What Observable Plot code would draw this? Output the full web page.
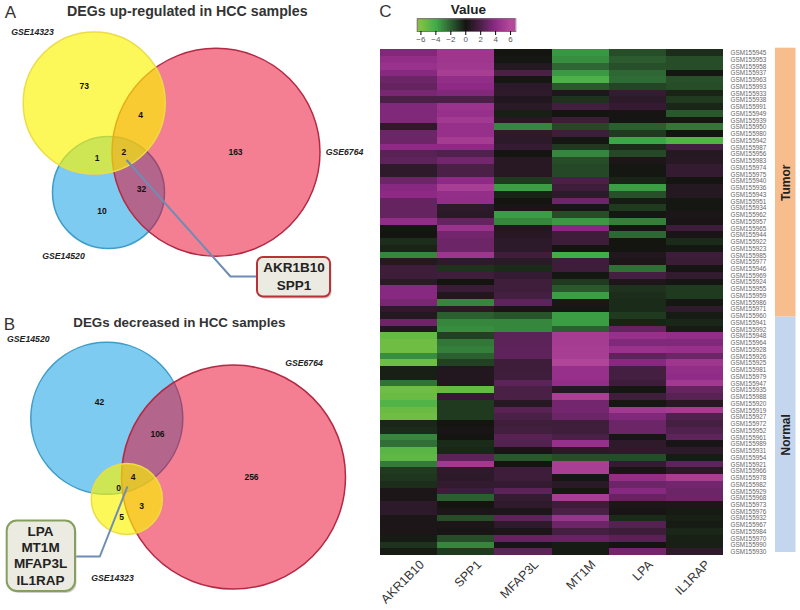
<!DOCTYPE html>
<html><head><meta charset="utf-8">
<style>
html,body{margin:0;padding:0;background:#fff;overflow:hidden;width:800px;height:610px}
#page{position:relative;width:800px;height:610px}
#page svg{position:absolute;display:block}
</style>
<script src="https://cdn.jsdelivr.net/npm/d3@7"></script>
<script src="https://cdn.jsdelivr.net/npm/@observablehq/plot@0.6"></script>
</head><body><div id="page"></div>
<script>
// ---------- Heatmap data ----------
const genes = ["AKR1B10","SPP1","MFAP3L","MT1M","LPA","IL1RAP"];
const samples = ["945","953","958","937","963","993","933","938","991","949","939","950","980","942","987","956","983","974","975","940","936","943","951","934","962","957","965","944","922","923","985","977","946","969","924","955","959","986","971","960","941","992","948","964","928","926","925","981","979","947","935","988","920","919","927","972","952","961","989","931","954","921","966","978","982","929","968","973","976","932","967","984","970","990","930"].map(s=>"GSM155"+s);
const akr1b10 = [3.6,4.2,4.5,3.8,3,2.8,3.4,2,3.6,3.6,3.6,1,3,3,4,2.4,2.6,1,1,3,3.8,4,2.8,2.8,2.8,4.2,-0.1,0,-0.7,-0.4,-3,0.6,1.5,1.5,0.8,3.8,3.8,3.4,1,0.6,3,0.5,-5.2,-5.5,-5.5,-3.2,-5.5,-0.3,-0.3,-2.5,-5.5,-5.3,-4.6,-5.3,-5.5,-0.5,-0.6,-3,-2.4,-4.8,-5,-2.7,-1,-0.9,-0.7,0.3,0.3,0.9,0.9,0.3,0.3,0.3,-0.2,-0.8,-0.2];
const spp1 = [4.8,4.8,4.9,5.3,4.2,4,3.6,2,4.6,4.4,5,4.4,4.4,5.2,4,2.2,3.2,2,2,4,5.3,4.3,4.2,1,0.8,2.8,4.5,3.2,3,3,4.8,1,-0.8,1.6,0,1.4,0.5,-3,0.8,-2,-3,-3.2,-1.2,-2.6,-2.8,-2,-1.2,0.5,0.5,0.5,-5.2,1.2,-1,-1,-1,0,0.2,0,-0.6,-0.5,2.5,5,1,0.9,1.1,1.5,-2,0,0.3,-1.5,0.3,0.2,-1.5,-3,-1];
const mfap3l = [0,-0.1,0.6,2,-0.1,0.9,1,0.5,0.8,-0.3,0.7,-3,1,0.9,1.2,0,0.7,0.7,0.7,-1,-3.6,-0.4,0,0.2,-3.6,-3,0.5,0.7,0.9,0.9,1.6,0.8,-0.6,1.2,1.6,1.6,1.8,2.6,0.2,-1.7,-3,-3,2.5,2.5,2.6,2.6,1.5,1.5,1.6,2.5,2,2,0.7,2.4,2,1.6,1.7,2.4,2.3,0.2,-1.8,0,1.5,1.5,1.2,2.5,1.2,1,0.3,2.6,1,0.3,2.8,0.2,2.5];
const mt1m = [-3.4,-3.2,-2.2,-3.5,-4.4,-1.8,0.4,-0.8,1.7,0,1.5,-1.4,1.5,-0.1,-1,-3,-1.5,-1.4,-1.4,2,1.5,1,3,0.2,-1.5,-3.5,3.8,1.5,1.5,0,-4,1.5,1.5,-0.1,-1,-1.8,-3.6,0.3,-0.1,-3.6,-3.6,-2,5.2,5.2,5.3,5.3,5.8,4.4,4.4,4.2,0.6,5.4,3.2,3.2,3,1.6,1.6,2,4.4,0.8,-1.5,5.4,5.4,-0.1,0.8,-0.1,5.3,1.5,2,4.6,3,1.8,2.8,-0.2,-0.2];
const lpa = [-1.5,-1.9,-1.6,-2.2,-2.3,-1.3,1.2,0.9,1.2,0.1,0.1,-2,-1,-3.8,-0.6,-1.4,0.3,-0.1,-0.1,-0.4,-3.6,-1.6,-0.2,-1,-0.1,-2.8,0,-2.2,0,0,0.5,0.3,-2.4,1.8,0.4,-0.8,-0.7,-0.6,-0.6,-1,-0.4,2.8,4.4,3.6,4.5,2.6,3.8,1.8,1.8,1.5,-0.1,1.6,-0.1,5,3.6,3,3,-0.1,1,1,-1.5,1.2,0.2,4.2,3,3.8,2.8,0.3,0.2,-0.6,2.3,1.5,2.4,0,3.2];
const il1rap = [-0.7,-1.5,-1.5,-0.1,-1.6,-1.5,-0.4,-1,-0.5,-1.8,-0.1,-2.6,0,-4.6,1.7,0.6,0.7,1.2,1.2,0,0.6,0.6,-0.1,-0.1,0.3,0.2,1.5,0.2,-0.6,-0.1,1.5,1.4,0.1,1.1,0.1,-1,-1,-0.1,1,-0.2,-0.5,-0.2,4.2,3.6,4.4,3,4.8,4.2,4.1,5,2.8,2.4,0.7,5.2,2.2,1.8,2.2,2.6,0.2,0.9,-0.2,2.6,0.8,5.3,3.2,3,3,0.4,-0.2,-0.3,-0.2,-0.5,-0.3,-0.3,1];
const geneValues = [akr1b10,spp1,mfap3l,mt1m,lpa,il1rap];
const groupNames = ["Tumor","Normal"];
const groupStart = [0,40];
const groupEnd = [40,75];
const groupFill = ["#f8bd8c","#c4d6ee"];
const legendTicks = [-6,-4,-2,0,2,4,6];

// ---------- Venn data (diagram units) ----------
const circleX = [108,215.5,93.7, 106.3,233,126.3];
const circleY = [192,151.8,102.5, 417.8,476.6,498.4];
const circleR = [56,104,71, 76,112,35.5];
const circleKind = ["blue","red","yellow","blue","red","yellow"];
const countText = ["73","4","1","2","163","32","10","42","106","256","4","0","3","5"];
const countX = [83.7,140,96.7,123.3,235,141,101.5,99,157,251,132.7,118,141,121];
const countY = [86,114.7,157.7,152,152,189,211,401.7,434,477,477,488,506,517];
const setText = ["GSE14323","GSE6764","GSE14520","GSE14520","GSE6764","GSE14323"];
const setX = [32,344,63,27.8,303.5,112];
const setY = [32,152,255.7,339,362.7,577.7];
const titleText = ["DEGs up-regulated in HCC samples","DEGs decreased in HCC samples"];
const titleSize = [14.2,13.4];
const titleX = [186.8,178.8];
const titleY = [10.5,322.7];
const leaderAX = [126.5,230,258], leaderAY = [160,276,276];
const leaderBX = [126.7,99.3,75], leaderBY = [486.7,556,556];
const boxA = {x1:257,x2:330,y1:257,y2:296.5,stroke:"#b83338",rx:6};
const boxB = {x1:6.7,x2:75,y1:520.5,y2:591,stroke:"#85a05e",rx:10};
const boxGenes = ["AKR1B10","SPP1","LPA","MT1M","MFAP3L","IL1RAP"];
const boxGeneX = [293.5,293.5,40,40,40,40];
const boxGeneY = [267,285.5,531.5,547,563.5,580];

const kindStyle = {
  blue:{fill:"#7dcbf0",fillOpacity:1,stroke:"#3d9cc9"},
  red:{fill:"#e90025",fillOpacity:0.5,stroke:"#b32a44"},
  yellow:{fill:"#fcf400",fillOpacity:0.65,stroke:"#ecdc45"}
};
const FONT = "'Liberation Sans', Arial, sans-serif";
const page = document.getElementById("page");
function place(svg,left,top){svg.style.left=left+"px";svg.style.top=top+"px";page.appendChild(svg);}

// ---------- Left: Venn diagrams ----------
const idx = a => a.map((_,i)=>i);
const circleMarks = idx(circleX).map(i=>Plot.dot([i],{
  x:j=>circleX[j],y:j=>circleY[j],r:j=>circleR[j],sort:null,strokeWidth:1.5,...kindStyle[circleKind[i]]}));
const boxMark = b => [
  Plot.rect([b],{x1:d=>d.x1+1.5,x2:d=>d.x2+1.5,y1:d=>d.y1+2,y2:d=>d.y2+2,rx:b.rx,fill:"#bbb",fillOpacity:0.7}),
  Plot.rect([b],{x1:"x1",x2:"x2",y1:"y1",y2:"y2",rx:b.rx,fill:"#ecebe1",stroke:b.stroke,strokeWidth:2})
];
const venn = Plot.plot({
  width:370,height:610,margin:0,
  x:{domain:[0,370],axis:null},y:{domain:[610,0],axis:null},
  r:{type:"linear",domain:[0,200],range:[0,200]},
  style:{fontFamily:FONT,background:"transparent"},
  marks:[
    ...circleMarks,
    Plot.line(idx(leaderAX),{x:i=>leaderAX[i],y:i=>leaderAY[i],stroke:"#6f8db4",strokeWidth:2}),
    Plot.line(idx(leaderBX),{x:i=>leaderBX[i],y:i=>leaderBY[i],stroke:"#6f8db4",strokeWidth:2}),
    ...boxMark(boxA),...boxMark(boxB),
    Plot.text(idx(countText),{x:i=>countX[i],y:i=>countY[i],text:i=>countText[i],fontSize:8.5,fontWeight:"bold",fill:"#111"}),
    Plot.text(idx(setText),{x:i=>setX[i],y:i=>setY[i],text:i=>setText[i],fontSize:8.7,fontWeight:"bold",fontStyle:"italic",fill:"#222"}),
    Plot.text([0],{x:titleX[0],y:titleY[0],text:()=>titleText[0],fontSize:titleSize[0],fontWeight:"bold",fill:"#333"}),
    Plot.text([1],{x:titleX[1],y:titleY[1],text:()=>titleText[1],fontSize:titleSize[1],fontWeight:"bold",fill:"#333"}),
    Plot.text(idx(boxGenes),{x:i=>boxGeneX[i],y:i=>boxGeneY[i],text:i=>boxGenes[i],fontSize:13.5,fontWeight:"bold",fill:"#222"}),
    Plot.text(["A","B"],{x:[10,9],y:[12,324],text:d=>d,fontSize:17,fill:"#333"})
  ]
});
place(venn,0,0);

// ---------- Colour scale shared by legend and heatmap ----------
const colorScale = {type:"linear",domain:[-6,-4,-2,0,2,4,6],
  range:["#7fc241","#3fae49","#2c5f30","#141410","#4a2047","#8e2a86","#b5489a"],clamp:true};

// ---------- Heatmap ----------
const cells = genes.flatMap((g,c)=>samples.map((s,r)=>({gene:g,sample:s,value:geneValues[c][r]})));
const heat = Plot.plot({
  width:405,height:565,marginLeft:10,marginRight:52,marginTop:4.3,marginBottom:55,
  x:{domain:genes,padding:0,round:false,label:null},
  y:{domain:samples,padding:0,round:false,label:null},
  color:colorScale,
  style:{fontFamily:FONT,background:"transparent"},
  marks:[
    Plot.cell(cells,{x:"gene",y:"sample",fill:"value",shapeRendering:"crispEdges"}),
    Plot.axisX({anchor:"bottom",tickSize:0,tickPadding:7,tickRotate:-45,fontSize:12.5,fill:"#333",dx:13,label:null}),
    Plot.axisY({anchor:"right",ticks:samples,tickSize:0,tickPadding:7,fontSize:6.4,fill:"#666",label:null})
  ]
});
place(heat,370,45);

// ---------- Legend ----------
const legendStops = d3.range(-6.5,6.7,0.1);
const legend = Plot.plot({
  width:190,height:45,marginLeft:46.7,marginRight:44.7,marginTop:18.3,marginBottom:14,
  x:{domain:[-6.5,6.7],label:null},y:{axis:null,domain:[0,1]},
  color:colorScale,
  style:{fontFamily:FONT,background:"transparent"},
  marks:[
    Plot.rect(legendStops,{x1:d=>d,x2:d=>d+0.1,y1:0,y2:1,fill:d=>d,shapeRendering:"crispEdges"}),
    Plot.frame({stroke:"#8a6a80",strokeWidth:1}),
    Plot.axisX({ticks:legendTicks,tickSize:4,tickPadding:1,fontSize:8,fill:"#555",label:null}),
    Plot.text(["Value"],{frameAnchor:"top-left",dx:33.5,dy:-14.5,lineAnchor:"top",textAnchor:"start",text:d=>d,fontSize:13.5,fontWeight:"bold",fill:"#222"}),
    Plot.text(["C"],{frameAnchor:"top-left",dx:-38,dy:-14,lineAnchor:"top",text:d=>d,fontSize:17,fill:"#333"})
  ]
});
place(legend,370,0);

// ---------- Annotation bar ----------
const annot = Plot.plot({
  width:25,height:565,marginLeft:0,marginRight:4.5,marginTop:2.7,marginBottom:58,
  x:{domain:[0,1],axis:null},y:{domain:[0,75],axis:null},
  style:{fontFamily:FONT,background:"transparent"},
  marks:[
    Plot.rect(idx(groupNames),{x1:0,x2:1,y1:i=>75-groupStart[i],y2:i=>75-groupEnd[i],fill:i=>groupFill[i]}),
    Plot.text(idx(groupNames),{x:0.5,y:i=>75-(groupStart[i]+groupEnd[i])/2,text:i=>groupNames[i],rotate:-90,fontSize:12,fontWeight:"bold",fill:"#222"})
  ]
});
place(annot,775,45);
</script></body></html>
